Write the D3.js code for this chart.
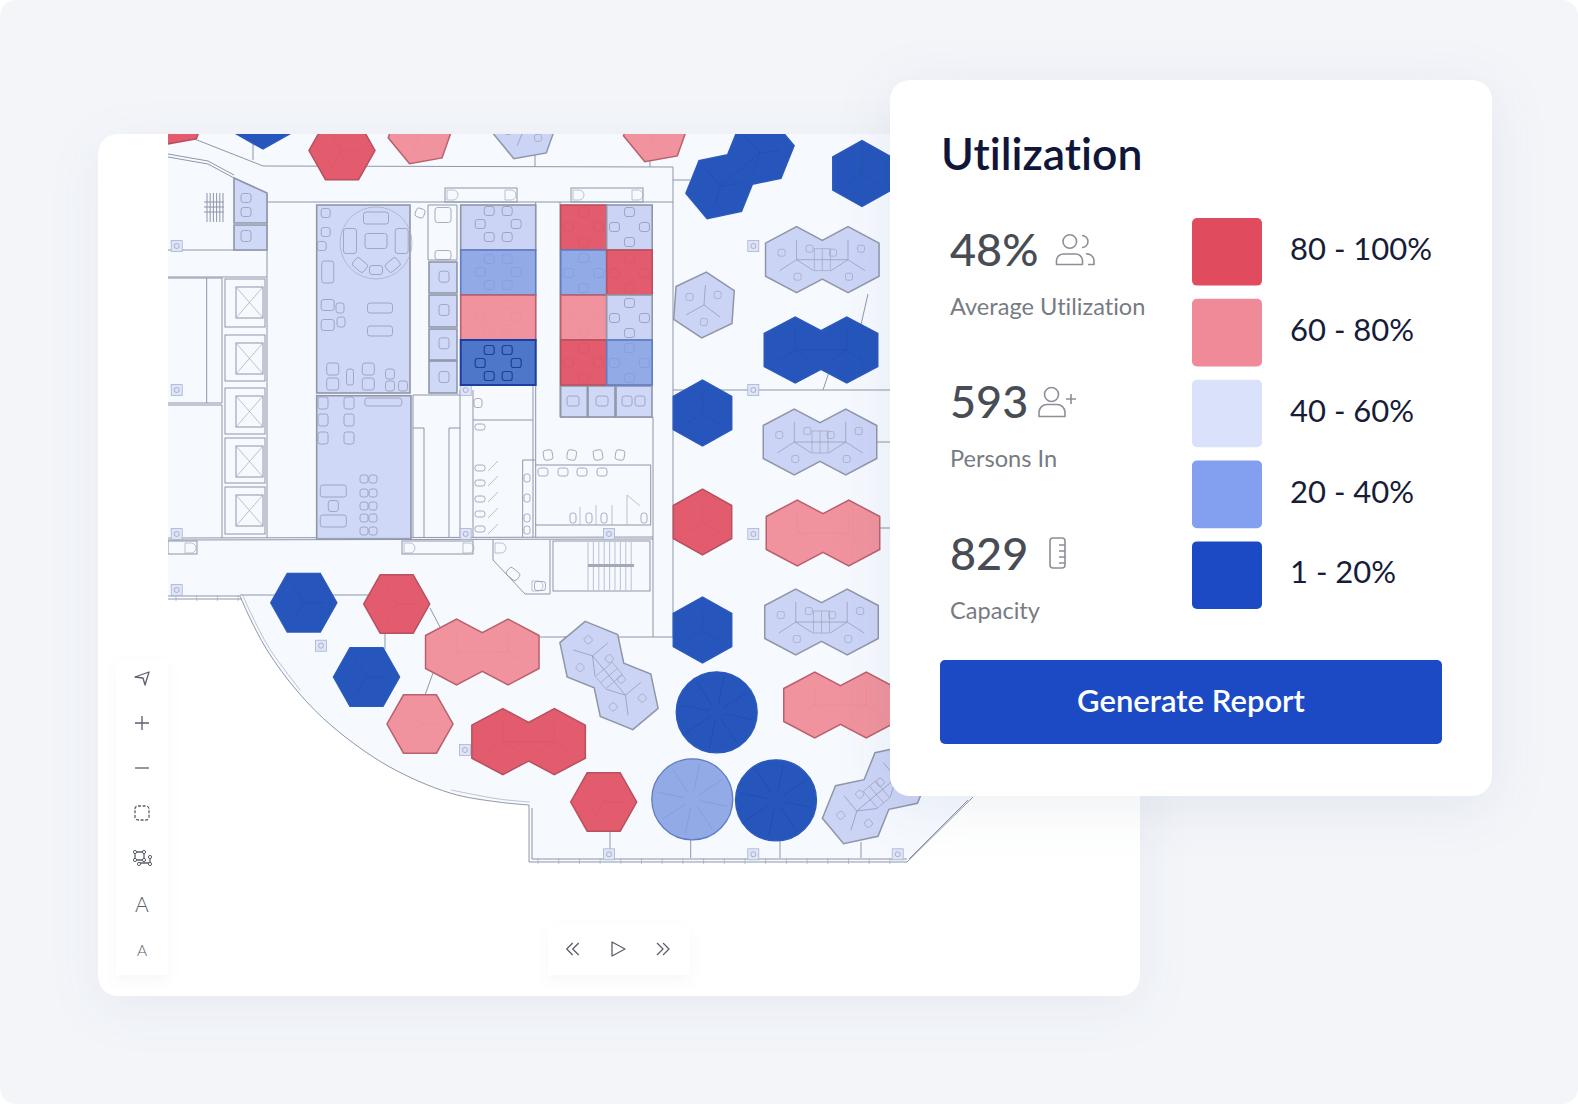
<!DOCTYPE html>
<html lang="en">
<head>
<meta charset="UTF-8">
<title>Utilization floor plan</title>
<script src="https://d3js.org/d3.v7.min.js"></script>
<style>
    html, body { margin: 0; padding: 0; background: #fff; }
    svg { display: block; font-family: Lato, "Open Sans", sans-serif; font-variant-ligatures: none; }
    .wall { fill: none; stroke: #8f96a8; stroke-width: 1; }
    .thin { fill: none; stroke: #a3aabb; stroke-width: .7; }
    .seat { fill: none; stroke: #949bb0; stroke-width: .8; }
</style>
</head>
<body>
<svg id="chart" width="1578" height="1104"></svg>
<script>
// Readings
const panelTitle = "Utilization";
const metricValues = ["48%", "593", "829"];
const metricLabels = ["Average Utilization", "Persons In", "Capacity"];
const bandLabels = ["80 - 100%", "60 - 80%", "40 - 60%", "20 - 40%", "1 - 20%"];
const bandBreaks = [20, 40, 60, 80];
const buttonLabel = "Generate Report";

// Utilization of each room, band midpoints
const roomsA = [50, 30, 70, 10];
const roomsB = [90, 30, 70, 90];
const roomsC = [50, 90, 50, 30];
const roomsUnder = [50, 50, 50];
const roomsNarrow = [50, 50, 50, 50];
const loungeRooms = [50, 50];
const siteUtil = [10, 50, 10, 90, 10, 10, 50, 10, 50, 70, 50, 70, 70, 90,
    10, 90, 10, 70, 90, 90, 70, 90, 50, 70, 10, 50, 50];
const podUtil = [10, 30, 10];

// Floor plan layout, in plan units
const siteSpots = [
    [694, 39.5, 0], [536, 171, 4], [534.5, 279, 0], [534.5, 388, 0], [534.5, 496, 0], [95, -18, 0],
    [654.3, 125.7, 0, 1], [653, 216, 0, 1], [652, 308, 0, 1], [655, 399, 0, 1], [653.5, 488, 0, 1],
    [672.5, 571, 0, 1], [314.3, 518, 0, 1], [360.6, 607.7, 0, 1],
    [135.8, 468.7, 90], [228.7, 470, 90], [198.5, 543, 90], [252, 590, 90], [435.7, 668, 90],
    [174, 16.5, 90], [252.7, -2, 80], [7, -21, 80], [357, -7, 80], [488, -4, 80],
    [572, 35.5, -40, 1], [441, 541.5, 50, 1], [708.5, 660.5, -40, 1]
];
const podSpots = [[548.7, 578.3], [524.3, 665.3], [608, 666.3]];
const columnMarks = [[8.7, 112], [8.7, 256], [8.7, 400], [8.7, 456], [297.7, 256], [297.7, 400],
    [585.3, 112], [585.3, 256], [585.3, 400], [441, 400], [153, 511.7], [297, 616],
    [441, 720.3], [585.3, 720.3], [729.7, 720.3]];
const wallRuns = [
    [[24, 4], [95, 32], [505, 33], [505, 503]], [[85, 0], [85, 26]],
    [[99, 68], [505, 68]], [[0, 23], [40, 30], [66, 44], [99, 59]], [[0, 20], [40, 27], [66, 41]],
    [[99, 59], [99, 404]], [[0, 404], [485, 403]], [[0, 406], [485, 405]],
    [[485, 283], [485, 503]], [[392, 283], [485, 283]], [[367.7, 68], [367.7, 403]], [[392, 68], [392, 283]],
    [[505, 46], [522, 46]], [[505, 256], [722, 256]], [[707, 308], [722, 308]], [[707, 394], [722, 394]],
    [[700, 160], [692, 195]], [[663, 232], [655, 256]], [[367, 19], [367, 33]], [[482, 26], [482, 33]],
    [[372, 503], [534, 503]], [[72, 461], [202, 461]], [[262, 474], [272, 493]], [[217, 493], [217, 515]],
    [[265, 539], [257, 561]], [[396, 503], [430, 503]], [[0, 116], [99, 116]], [[0, 143], [99, 143]],
    [[292, 256], [292, 403]], [[305, 256], [305, 403]], [[365, 251], [365, 403]], [[305, 286], [365, 286]],
    [[442, 697], [442, 724]], [[522.7, 706], [522.7, 724]], [[612, 706], [612, 724]], [[693, 708], [693, 724]],
    [[361, 671], [361, 728]], [[364, 674], [364, 725]], [[361, 728], [739, 728]], [[364, 725], [739, 725]],
    [[739, 728], [805, 663]], [[741, 725], [800, 666]], [[0, 462], [72, 462]], [[0, 465], [74, 465]],
    [[325, 406], [325, 426], [357, 460], [382, 460], [382, 406]],
    [[260, 71], [289, 71], [289, 126], [260, 126], [260, 71]],
    [[245, 261], [292, 261]], [[245, 261], [245, 403]], [[245, 294], [256, 294], [256, 403]],
    [[292, 294], [281, 294], [281, 403]], [[367, 331], [483, 331]], [[367, 391], [483, 391]],
    [[482.7, 331], [482.7, 391]], [[354.7, 326], [367, 326]], [[354.7, 326], [354.7, 403]],
    [[0, 144], [54, 144], [54, 269], [0, 269]], [[0, 271], [54, 271], [54, 404]], [[38.7, 144], [38.7, 269]]
];
const curveRun = [[72, 462], [80, 480], [99, 516], [130, 558], [165, 593], [220, 632], [282, 659], [330, 668], [361, 671]];
const liftRows = [[145, 193], [201, 247], [254, 300], [304, 349], [353, 400]];
const nookRooms = [[[66, 44], [99, 59], [99, 89], [66, 89]], [[66, 91], [99, 91], [99, 116], [66, 116]]];
const benches = [[277, 54, 72, 14], [403, 54, 72, 14], [234, 407, 71, 13], [0, 407, 29, 13]];
const doors = [[277, 54], [335, 54], [403, 54], [462, 54], [234, 407], [293, 407], [15, 407], [325, 407], [362, 445]];
const seats = [
    [208, 84, 25, 12], [182, 107, 13, 25], [233.7, 107, 13, 25], [208, 107, 22, 15], [192, 131, 14, 10, 40],
    [224.7, 131, 14, 10, -40], [208, 136, 13, 9], [157.7, 79, 9, 9], [157.7, 98, 9, 9], [153.7, 112, 9, 9],
    [159.7, 138, 12, 22], [159.7, 171, 13, 11], [159.7, 191, 13, 11], [172, 174, 8, 10], [173, 188, 8, 10],
    [212, 174, 25, 10], [212, 197, 25, 10], [164.7, 235, 12, 12], [164.7, 250, 12, 12], [200.3, 235, 12, 12],
    [200.3, 250, 12, 12], [182, 243, 7, 16], [222, 240, 9, 10], [222, 252, 9, 10], [235, 252, 9, 10],
    [155, 269, 10, 12], [155, 286, 10, 12], [155, 304, 10, 12], [181, 269, 10, 12], [181, 286, 10, 12],
    [181, 304, 10, 12], [215.3, 268, 37, 8], [165.3, 357, 26, 12], [165.3, 372, 10, 11], [165.3, 387, 26, 12],
    [196, 345, 8, 8], [205, 345, 8, 8], [196, 359, 8, 8], [205, 359, 8, 8], [196, 372, 8, 8], [205, 372, 8, 8],
    [196, 384, 8, 8], [205, 384, 8, 8], [196, 397, 8, 8], [205, 397, 8, 8],
    [276, 142.7, 10, 11], [276, 176, 10, 11], [276, 209.3, 10, 11], [276, 243, 10, 11],
    [78, 64, 10, 9], [78, 78, 10, 9], [78, 102, 10, 11], [252, 79, 9, 9, 20], [310, 269, 8, 9],
    [275, 81, 16, 15], [275, 121, 16, 9],
    [312, 293, 10, 6], [312, 334, 10, 6], [312, 349, 10, 6], [312, 365, 10, 6], [312, 380, 10, 6], [312, 395, 10, 6],
    [375, 338, 10, 8], [395, 338, 10, 8], [414, 338, 10, 8], [434, 338, 10, 8],
    [380, 321, 9, 10, -10], [403.7, 321, 9, 10, 10], [430, 321, 9, 10, -10], [452, 321, 9, 10, 10],
    [405, 384, 6, 10], [421, 384, 6, 10], [436, 384, 6, 10], [476, 384, 6, 10],
    [359, 344, 6, 8], [359, 364, 6, 8], [359, 384, 6, 8], [359, 396, 6, 8],
    [345, 440, 13, 9, 40], [372, 452, 11, 9],
    [405, 267, 12, 10], [434, 267, 12, 10], [459, 267, 10, 10], [472, 267, 10, 10]
];
const toiletWalls = [[[320, 337], [330, 327]], [[320, 352], [330, 342]], [[320, 368], [330, 358]],
    [[320, 384], [330, 374]], [[320, 400], [330, 390]], [[412, 373], [412, 391]], [[428, 371], [428, 391]],
    [[444, 371], [444, 391]], [[459, 361], [459, 391]], [[459, 361], [472, 372]]];
const seatSix = [[-9, -13], [9, -13], [-9, 13], [9, 13], [-18, 0], [18, 0]];
const seatFour = [[0, -15], [0, 15], [-15, 0], [15, 0]];
const seatDesk = [[-15, -7], [13, -11], [1, 17]];

// Scales
const planX = d3.scaleLinear().domain([0, 968]).range([168, 1136]);
const planY = d3.scaleLinear().domain([0, 862]).range([134, 996]);
const planLine = d3.line().x(d => planX(d[0])).y(d => planY(d[1]));
const planCurve = d3.line().x(d => planX(d[0])).y(d => planY(d[1])).curve(d3.curveCatmullRom);

const fillColor = d3.scaleThreshold().domain(bandBreaks).range(["#2656bb", "#92abe6", "#ccd4f6", "#f0939e", "#e35c6e"]);
const edgeColor = d3.scaleThreshold().domain(bandBreaks).range(["#2b59bc", "#5e7cc2", "#8f96a8", "#b9606b", "#b8505e"]);
const innerColor = d3.scaleThreshold().domain(bandBreaks).range(["#1c3f9f", "#7590d4", "#858daa", "#ea8893", "#d24f60"]);
const innerAlpha = d3.scaleThreshold().domain(bandBreaks).range([.4, .5, .85, .45, .45]);
const legendColor = d3.scaleOrdinal().domain(bandLabels).range(["#e14b5e", "#ef8b98", "#d9e2fa", "#829ff0", "#1c4ac4"]);
const legendY = d3.scaleBand().domain(bandLabels).range([218, 609]).paddingInner(.164);
const metricY = d3.scalePoint().domain(metricValues).range([266, 570]);
const rowY = d3.scaleBand().domain(d3.range(4)).range([71, 251]);

const svg = d3.select("#chart");
svg.append("rect").attr("width", 1578).attr("height", 1104).attr("rx", 16).attr("fill", "#f3f5f9");

// Map card
svg.append("rect").attr("x", 98).attr("y", 134).attr("width", 1042).attr("height", 862).attr("rx", 20)
    .attr("fill", "#fff").style("filter", "drop-shadow(0 12px 26px rgba(40,60,110,.06))");

svg.append("clipPath").attr("id", "planClip").append("rect")
    .attr("x", 168).attr("y", 134).attr("width", 972).attr("height", 862);
const plan = svg.append("g").attr("clip-path", "url(#planClip)");

const outline = [[361, 671], [361, 728], [739, 728], [805, 663], [805, 0], [0, 0], [0, 462], [72, 462]];
plan.append("path").attr("fill", "#f6f9fe").attr("stroke", "none")
    .attr("d", planCurve(curveRun) + planLine(outline).replace("M", "L") + "Z");

// Walls
plan.selectAll("path.run").data(wallRuns).join("path").attr("class", "wall run").attr("d", planLine);
plan.append("path").attr("class", "wall").attr("d", planCurve(curveRun)).attr("stroke-width", 1.2);
plan.append("path").attr("class", "thin").attr("transform", "translate(2.5,-1.5)").attr("d", planCurve(curveRun.slice(0, 4)));
plan.append("path").attr("class", "thin").attr("transform", "translate(1,-3)").attr("d", planCurve(curveRun.slice(6)));

// Ticks along the outer walls
const wallTicks = d3.range(370, 735, 20.7);
plan.selectAll("line.tick").data(wallTicks).join("line").attr("class", "thin tick")
    .attr("x1", d => planX(d)).attr("x2", d => planX(d)).attr("y1", planY(724)).attr("y2", planY(730));
plan.selectAll("line.tick2").data(d3.range(8, 72, 20.7)).join("line").attr("class", "thin tick2")
    .attr("x1", d => planX(d)).attr("x2", d => planX(d)).attr("y1", planY(461)).attr("y2", planY(467));

// Lift shafts
const lifts = plan.selectAll("g.lift").data(liftRows).join("g").attr("class", "lift");
lifts.append("rect").attr("class", "wall").attr("x", planX(57)).attr("width", 40)
    .attr("y", d => planY(d[0])).attr("height", d => d[1] - d[0]);
lifts.append("rect").attr("class", "wall").attr("x", planX(68)).attr("width", 27)
    .attr("y", d => planY(d[0] + 8)).attr("height", 31);
lifts.append("path").attr("class", "thin")
    .attr("d", d => planLine([[68, d[0] + 8], [95, d[0] + 39]]) + planLine([[95, d[0] + 8], [68, d[0] + 39]]));

// Small desk stack in the top left corner
plan.selectAll("line.stack").data(d3.range(39, 56, 3.2)).join("line").attr("class", "wall stack")
    .attr("x1", d => planX(d)).attr("x2", d => planX(d)).attr("y1", planY(59)).attr("y2", planY(88));
plan.selectAll("line.stackh").data([68, 73, 78]).join("line").attr("class", "wall stackh")
    .attr("x1", planX(36)).attr("x2", planX(56)).attr("y1", d => planY(d)).attr("y2", d => planY(d));

// Benches and doors
plan.selectAll("rect.bench").data(benches).join("rect").attr("class", "wall bench")
    .attr("x", d => planX(d[0])).attr("y", d => planY(d[1])).attr("width", d => d[2]).attr("height", d => d[3]);
plan.selectAll("path.door").data(doors).join("path").attr("class", "thin door")
    .attr("transform", d => `translate(${planX(d[0])},${planY(d[1])})`)
    .attr("d", "M2,2H8A5,5 0 0 1 8,12H2Z");

// Column markers
const marks = plan.selectAll("g.mark").data(columnMarks).join("g").attr("class", "mark")
    .attr("transform", d => `translate(${planX(d[0])},${planY(d[1])})`);
marks.append("rect").attr("x", -5.5).attr("y", -5.5).attr("width", 11).attr("height", 11)
    .attr("fill", "#dfe5f6").attr("stroke", "#a9b3d2").attr("stroke-width", .8);
marks.append("circle").attr("r", 2.5).attr("fill", "none").attr("stroke", "#8f9ac0").attr("stroke-width", .7);

// Stairs
plan.append("rect").attr("class", "wall").attr("x", planX(385)).attr("y", planY(407)).attr("width", 97).attr("height", 50);
plan.selectAll("line.step").data(d3.range(420, 468, 5.4)).join("line").attr("class", "thin step")
    .attr("x1", d => planX(d)).attr("x2", d => planX(d)).attr("y1", planY(408)).attr("y2", planY(456));
plan.append("rect").attr("x", planX(420)).attr("y", planY(430)).attr("width", 46).attr("height", 3)
    .attr("fill", "#a2a9b8");

// Toilet stall walls
plan.selectAll("path.stall").data(toiletWalls).join("path").attr("class", "thin stall").attr("d", planLine);

// Lounge rooms, nooks and small meeting rooms
function drawRooms(list, util, opacity) {
    plan.append("g").selectAll("rect").data(list).join("rect")
        .attr("x", d => planX(d[0])).attr("y", d => planY(d[1]))
        .attr("width", d => d[2]).attr("height", d => d[3])
        .attr("fill", (d, i) => fillColor(util[i])).attr("fill-opacity", opacity)
        .attr("stroke", (d, i) => edgeColor(util[i])).attr("stroke-width", 1.6);
}
drawRooms([[148.7, 71, 93.3, 188], [148.7, 261.7, 94.3, 143.3]], loungeRooms, .9);
drawRooms([[261, 128, 28, 31], [261, 161, 28, 32], [261, 195, 28, 31], [261, 227, 28, 32]], roomsNarrow, .9);
plan.selectAll("path.nook").data(nookRooms).join("path").attr("class", "nook")
    .attr("d", d => planLine(d) + "Z").attr("fill", fillColor(50)).attr("fill-opacity", .9)
    .attr("stroke", edgeColor(50)).attr("stroke-width", 1.6);
drawRooms([[392.7, 252, 26.6, 31], [420, 252, 27, 31], [448, 252, 36, 31]], roomsUnder, .9);

plan.append("g").selectAll("rect").data(seats).join("rect").attr("class", "seat")
    .attr("rx", 2.5).attr("width", d => d[2]).attr("height", d => d[3])
    .attr("transform", d => `translate(${planX(d[0])},${planY(d[1])}) rotate(${d[4] || 0}) translate(${-d[2] / 2},${-d[3] / 2})`);
plan.append("circle").attr("class", "thin").attr("cx", planX(208)).attr("cy", planY(109)).attr("r", 36);

// Grid of coloured meeting rooms
function drawGrid(util, x0, width, seatSet, seatY) {
    const col = plan.append("g");
    col.selectAll("rect").data(util).join("rect")
        .attr("x", planX(x0)).attr("y", (d, i) => planY(rowY(i)))
        .attr("width", width).attr("height", rowY.bandwidth())
        .attr("fill", d => fillColor(d)).attr("fill-opacity", d => d < 20 ? .8 : 1)
        .attr("stroke", d => d < 20 ? "#1c3f9f" : edgeColor(d)).attr("stroke-width", d => d < 20 ? 2 : 1.6);
    util.forEach((d, i) => {
        col.append("g").selectAll("rect").data(seatSet).join("rect")
            .attr("x", s => planX(x0 + width / 2 + s[0]) - 5).attr("y", s => planY(seatY[i] + s[1]) - 4.5)
            .attr("width", 10).attr("height", 9).attr("rx", 2.5).attr("fill", "none")
            .attr("stroke", innerColor(d)).attr("stroke-opacity", d < 20 ? 1 : innerAlpha(d))
            .attr("stroke-width", d < 20 ? 1.2 : .8);
    });
}
drawGrid(roomsA, 292.7, 75, seatSix, [90, 138, 183, 229]);
drawGrid(roomsB, 392.7, 46, seatFour, [93, 139, 184, 229]);
drawGrid(roomsC, 438.7, 45.5, seatFour, [93, 139, 184, 229]);

// Hexagon work pods, one or two cells
const hexRise = 33;
function hexOutline(twin) {
    const h = twin ? 31 : 29.2, r = hexRise, s = 51.5 / 2;
    const pts = twin
        ? [[-s - h, -r / 2], [-s, -r], [0, -r + s / h * r / 2], [s, -r], [s + h, -r / 2],
           [s + h, r / 2], [s, r], [0, r - s / h * r / 2], [-s, r], [-s - h, r / 2]]
        : [[-h, -r / 2], [0, -r], [h, -r / 2], [h, r / 2], [0, r], [-h, r / 2]];
    return d3.line()(pts) + "Z";
}
function spokePath(cx) {
    return d3.line()([[cx, 0], [cx, -20]]) + d3.line()([[cx, 0], [cx - 17, 11]]) + d3.line()([[cx, 0], [cx + 17, 11]]);
}
const pods = plan.selectAll("g.site").data(siteSpots).join("g").attr("class", "site")
    .attr("transform", d => `translate(${planX(d[0])},${planY(d[1])}) rotate(${d[2]})`);
pods.append("path").attr("d", d => hexOutline(d[3]))
    .attr("fill", (d, i) => fillColor(siteUtil[i]))
    .attr("stroke", (d, i) => edgeColor(siteUtil[i])).attr("stroke-width", 1.5);
pods.append("path").attr("fill", "none").attr("stroke-width", .7)
    .attr("stroke", (d, i) => innerColor(siteUtil[i]))
    .attr("stroke-opacity", (d, i) => innerAlpha(siteUtil[i]))
    .attr("d", d => d[3]
        ? spokePath(-25.7) + spokePath(25.7) + d3.line()([[-25.7, 0], [25.7, 0]])
        : spokePath(0));
pods.each(function(d, i) {
    if (siteUtil[i] !== 50) return;
    const centres = d[3] ? [-25.7, 25.7] : [0];
    const seatsHere = centres.flatMap(c => seatDesk.map(s => [c + s[0], s[1]]));
    const group = d3.select(this);
    group.selectAll("rect.chair").data(seatsHere).join("rect").attr("class", "chair seat")
        .attr("x", s => s[0] - 3.5).attr("y", s => s[1] - 3.5).attr("width", 7).attr("height", 7).attr("rx", 2)
        .attr("stroke-opacity", .7);
    if (d[3]) {
        group.append("rect").attr("class", "seat").attr("x", -8).attr("y", -11).attr("width", 16).attr("height", 22)
            .attr("stroke-opacity", .7);
        group.append("line").attr("class", "seat").attr("x1", 0).attr("x2", 0).attr("y1", -11).attr("y2", 11)
            .attr("stroke-opacity", .7);
    }
});

// Round pods
const roundPods = plan.selectAll("g.pod").data(podSpots).join("g").attr("class", "pod")
    .attr("transform", d => `translate(${planX(d[0])},${planY(d[1])})`);
roundPods.append("circle").attr("r", 40.5)
    .attr("fill", (d, i) => fillColor(podUtil[i]))
    .attr("stroke", (d, i) => edgeColor(podUtil[i])).attr("stroke-width", 1.3);
roundPods.selectAll("line").data((d, i) => d3.range(8).map(k => [k * Math.PI / 4 + .2, podUtil[i]])).join("line")
    .attr("x1", d => 8 * Math.cos(d[0])).attr("y1", d => 8 * Math.sin(d[0]))
    .attr("x2", d => 36 * Math.cos(d[0])).attr("y2", d => 36 * Math.sin(d[0]))
    .attr("stroke", d => innerColor(d[1])).attr("stroke-opacity", d => innerAlpha(d[1]) + .1).attr("stroke-width", .8);

// Map tools
const shelf = "drop-shadow(0 6px 7px rgba(30,50,100,.04))";
svg.append("rect").attr("x", 116).attr("y", 660).attr("width", 52).attr("height", 315).attr("fill", "#fff").style("filter", shelf);
svg.append("rect").attr("x", 548).attr("y", 925).attr("width", 142).attr("height", 50).attr("fill", "#fff").style("filter", shelf);
const toolInk = "#5a5f6a";
const icon = (x, y, d) => svg.append("path").attr("transform", `translate(${x},${y})`).attr("d", d)
    .attr("fill", "none").attr("stroke", toolInk).attr("stroke-width", 1.3).attr("stroke-linejoin", "round");
icon(142, 678, "M-7,-1L7,-6L3,7L1,0Z");
icon(142, 723, "M-7,0H7M0,-7V7");
icon(142, 768, "M-7,0H7");
icon(142, 813, "M-7,-4A3,3 0 0 1 -4,-7H4A3,3 0 0 1 7,-4V4A3,3 0 0 1 4,7H-4A3,3 0 0 1 -7,4Z").attr("stroke-dasharray", "3 1.6");
icon(142, 858, "M-7,-6H2V2H-7ZM-3,5H8M8,-1V5");
svg.append("g").selectAll("circle").data([[-7, -6], [2, -6], [-7, 2], [2, 2], [-3, 6], [8, -1], [8, 6]]).join("circle")
    .attr("cx", d => 142 + d[0]).attr("cy", d => 858 + d[1]).attr("r", 1.6).attr("fill", "#fff").attr("stroke", toolInk);
svg.selectAll("text.tool").data([[904, 21], [950, 15.5]]).join("text").attr("class", "tool").text("A")
    .attr("x", 142).attr("y", d => d[0] + d[1] * .36).attr("text-anchor", "middle")
    .attr("font-size", d => d[1]).attr("font-weight", 300).attr("fill", toolInk);
icon(572.7, 949, "M0,-6L-6,0L0,6M6,-6L0,0L6,6");
icon(618, 949, "M-6,-7L7,0L-6,7Z");
icon(663, 949, "M-6,-6L0,0L-6,6M0,-6L6,0L0,6");

// Utilization panel
svg.append("rect").attr("x", 890).attr("y", 80).attr("width", 602).attr("height", 716).attr("rx", 20)
    .attr("fill", "#fff").style("filter", "drop-shadow(0 10px 28px rgba(40,60,110,.08))");
svg.append("text").attr("x", 941).attr("y", 170).text(panelTitle)
    .attr("font-size", 44.5).attr("font-weight", 600).attr("fill", "#10163a");

svg.selectAll("text.metric").data(metricValues).join("text").attr("class", "metric")
    .attr("x", 950).attr("y", d => metricY(d)).text(d => d)
    .attr("font-size", 45).attr("font-weight", 500).attr("fill", "#484c55");
svg.selectAll("text.metricLabel").data(metricLabels).join("text").attr("class", "metricLabel")
    .attr("x", 950).attr("y", (d, i) => metricY(metricValues[i]) + 49).text(d => d)
    .attr("font-size", 23.6).attr("fill", "#777b84");

const panelIcon = (d, sw) => svg.append("path").attr("d", d).attr("fill", "none")
    .attr("stroke", "#8b8f97").attr("stroke-width", sw || 1.6).attr("stroke-linejoin", "round");
panelIcon("M1063,241.5a6.8,6.8 0 1 0 13.6,0a6.8,6.8 0 1 0 -13.6,0ZM1056.5,264.5V260a7,7 0 0 1 7,-6h12a7,7 0 0 1 7,6v4.5ZM1082,235.5a6,6 0 0 1 0,12M1086,254a7,7 0 0 1 8,6v4.5H1088");
panelIcon("M1044.5,394.5a7,7 0 1 0 14,0a7,7 0 1 0 -14,0ZM1039,416.5V412a8,8 0 0 1 8,-7.5h10a8,8 0 0 1 8,7.5v4.5ZM1066,399h10M1071,394v10");
panelIcon("M1053,538h9a3,3 0 0 1 3,3v24a3,3 0 0 1 -3,3h-9a3,3 0 0 1 -3,-3v-24a3,3 0 0 1 3,-3ZM1059,545h6M1059,551h6M1059,557h6M1059,563h6");

svg.selectAll("rect.swatch").data(bandLabels).join("rect").attr("class", "swatch")
    .attr("x", 1192).attr("width", 70).attr("y", d => legendY(d)).attr("height", legendY.bandwidth())
    .attr("rx", 5).attr("fill", d => legendColor(d));
svg.selectAll("text.band").data(bandLabels).join("text").attr("class", "band")
    .attr("x", 1290).attr("y", d => legendY(d) + 42).text(d => d)
    .attr("font-size", 31).attr("fill", "#171c38");

svg.append("rect").attr("x", 940).attr("y", 660).attr("width", 502).attr("height", 84).attr("rx", 5).attr("fill", "#1c4ac4");
svg.append("text").attr("x", 1191).attr("y", 712).attr("text-anchor", "middle").text(buttonLabel)
    .attr("font-size", 31).attr("font-weight", 600).attr("fill", "#fff");
</script>
</body>
</html>
